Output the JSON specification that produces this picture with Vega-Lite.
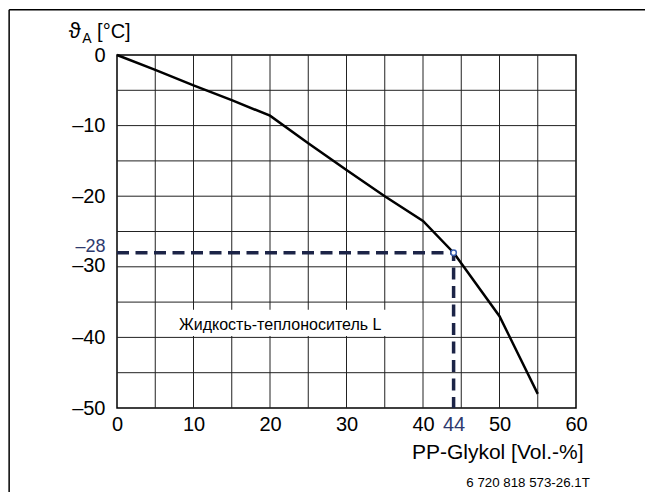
{
  "$schema": "https://vega.github.io/schema/vega-lite/v6.json",
  "width": 459,
  "height": 353,
  "autosize": {"type": "none"},
  "padding": {"left": 117, "top": 55, "right": 69, "bottom": 84},
  "background": "white",
  "config": {
    "view": {"stroke": "#000", "strokeWidth": 1.5},
    "font": "Liberation Sans",
    "text": {"font": "Liberation Sans"},
    "axis": {"labelOverlap": false, "labelBound": false, "labelFlush": false}
  },
  "datasets": {
    "curve": [
      {"pct": 0, "temp": 0},
      {"pct": 5, "temp": -2.1},
      {"pct": 10, "temp": -4.3},
      {"pct": 15, "temp": -6.4},
      {"pct": 20, "temp": -8.6},
      {"pct": 25, "temp": -12.5},
      {"pct": 30, "temp": -16.3},
      {"pct": 35, "temp": -20},
      {"pct": 40, "temp": -23.5},
      {"pct": 44, "temp": -28},
      {"pct": 50, "temp": -37},
      {"pct": 55, "temp": -48}
    ],
    "ref": [
      {"pct": 0, "temp": -28, "step": 1},
      {"pct": 44, "temp": -28, "step": 2},
      {"pct": 44, "temp": -50, "step": 3}
    ],
    "gridx": [{"v": 5}, {"v": 10}, {"v": 15}, {"v": 20}, {"v": 25}, {"v": 30}, {"v": 35}, {"v": 40}, {"v": 45}, {"v": 50}, {"v": 55}],
    "gridy": [{"v": -5}, {"v": -10}, {"v": -15}, {"v": -20}, {"v": -25}, {"v": -30}, {"v": -35}, {"v": -40}, {"v": -45}]
  },
  "layer": [
    {
      "data": {"name": "gridx"},
      "mark": {"type": "rule", "color": "#222", "strokeWidth": 1},
      "encoding": {
        "x": {
          "field": "v", "type": "quantitative",
          "scale": {"domain": [0, 60], "nice": false, "zero": false},
          "axis": {
            "title": "PP-Glykol [Vol.-%]",
            "values": [0, 10, 20, 30, 40, 44, 50, 60],
            "labelOverlap": false,
            "labelBound": false,
            "labelFlush": false,
            "labelFont": "Liberation Sans",
            "labelFontSize": 20,
            "labelColor": {"condition": {"test": "datum.value == 44", "value": "#2e3a6e"}, "value": "#000"},
            "labelPadding": 6,
            "ticks": false,
            "domain": false,
            "grid": false,
            "titleFont": "Liberation Sans",
            "titleFontSize": 21,
            "titleFontWeight": "normal",
            "titleColor": "#000",
            "titleAnchor": "end",
            "titleAlign": "right",
            "titleX": 466,
            "titleY": 50,
            "titleBaseline": "alphabetic"
          }
        }
      }
    },
    {
      "data": {"name": "gridy"},
      "mark": {"type": "rule", "color": "#222", "strokeWidth": 1},
      "encoding": {
        "y": {
          "field": "v", "type": "quantitative",
          "scale": {"domain": [-50, 0], "nice": false, "zero": false},
          "axis": {
            "title": null,
            "values": [0, -10, -20, -28, -30, -40, -50],
            "labelExpr": "datum.value < 0 ? '\u2013' + abs(datum.value) : '0'",
            "labelOverlap": false,
            "labelBound": false,
            "labelFlush": false,
            "labelFont": "Liberation Sans",
            "labelFontSize": {"condition": {"test": "datum.value == -28", "value": 18}, "value": 20},
            "labelColor": {"condition": {"test": "datum.value == -28", "value": "#2e3a6e"}, "value": "#000"},
            "labelOffset": {"condition": [{"test": "datum.value == -30", "value": -1}, {"test": "datum.value == -28", "value": -6}], "value": 0},
            "labelPadding": 12,
            "ticks": false,
            "domain": false,
            "grid": false
          }
        }
      }
    },
    {
      "data": {"name": "curve"},
      "mark": {"type": "line", "color": "#000", "strokeWidth": 2.5, "clip": false},
      "encoding": {
        "x": {"field": "pct", "type": "quantitative"},
        "y": {"field": "temp", "type": "quantitative"}
      }
    },
    {
      "data": {"values": [{"t": "Жидкость-теплоноситель L"}]},
      "mark": {"type": "rect", "fill": "white", "stroke": null, "clip": false},
      "encoding": {
        "x": {"datum": 5.2, "type": "quantitative"},
        "x2": {"datum": 39.9},
        "y": {"datum": -36.1, "type": "quantitative"},
        "y2": {"datum": -39.8}
      }
    },
    {
      "data": {"values": [{"t": "Жидкость-теплоноситель L"}]},
      "mark": {"type": "text", "align": "left", "baseline": "alphabetic", "fontSize": 16, "color": "#000", "clip": false},
      "encoding": {
        "x": {"datum": 8.1, "type": "quantitative"},
        "y": {"datum": -38.95, "type": "quantitative"},
        "text": {"field": "t"}
      }
    },
    {
      "data": {"name": "ref"},
      "mark": {"type": "line", "color": "#1c2447", "strokeWidth": 3.5, "strokeDash": [12, 6.5], "clip": false},
      "encoding": {
        "x": {"field": "pct", "type": "quantitative"},
        "y": {"field": "temp", "type": "quantitative"},
        "order": {"field": "step"}
      }
    },
    {
      "data": {"values": [{"pct": 44, "temp": -28}]},
      "mark": {"type": "point", "shape": "circle", "filled": false, "fill": "white", "fillOpacity": 1, "stroke": "#3a5fb0", "strokeWidth": 1.5, "size": 30, "opacity": 1, "clip": false},
      "encoding": {
        "x": {"field": "pct", "type": "quantitative"},
        "y": {"field": "temp", "type": "quantitative"}
      }
    },
    {
      "data": {"values": [{"t": "ϑ"}]},
      "mark": {"type": "text", "align": "left", "baseline": "alphabetic", "fontSize": 22, "color": "#000", "clip": false},
      "encoding": {
        "x": {"datum": -6.3, "type": "quantitative"},
        "y": {"datum": 2.4, "type": "quantitative"},
        "text": {"field": "t"}
      }
    },
    {
      "data": {"values": [{"t": "A"}]},
      "mark": {"type": "text", "align": "left", "baseline": "alphabetic", "fontSize": 14, "color": "#000", "clip": false},
      "encoding": {
        "x": {"datum": -4.55, "type": "quantitative"},
        "y": {"datum": 1.7, "type": "quantitative"},
        "text": {"field": "t"}
      }
    },
    {
      "data": {"values": [{"t": "[°C]"}]},
      "mark": {"type": "text", "align": "left", "baseline": "alphabetic", "fontSize": 20, "color": "#000", "clip": false},
      "encoding": {
        "x": {"datum": -2.6, "type": "quantitative"},
        "y": {"datum": 2.4, "type": "quantitative"},
        "text": {"field": "t"}
      }
    },
    {
      "data": {"values": [{"t": "6 720 818 573-26.1T"}]},
      "mark": {"type": "text", "align": "right", "baseline": "alphabetic", "fontSize": 13.3, "color": "#000", "clip": false},
      "encoding": {
        "x": {"datum": 61.8, "type": "quantitative"},
        "y": {"datum": -61.2, "type": "quantitative"},
        "text": {"field": "t"}
      }
    },
    {
      "data": {"values": [{"side": "left"}]},
      "mark": {"type": "rule", "color": "#000", "strokeWidth": 1.5, "clip": false},
      "encoding": {
        "x": {"datum": -14.1, "type": "quantitative"},
        "y": {"datum": 6.4, "type": "quantitative"},
        "y2": {"datum": -70}
      }
    },
    {
      "data": {"values": [{"side": "top"}]},
      "mark": {"type": "rule", "color": "#000", "strokeWidth": 1.5, "clip": false},
      "encoding": {
        "x": {"datum": -14.1, "type": "quantitative"},
        "x2": {"datum": 80},
        "y": {"datum": 6.4, "type": "quantitative"}
      }
    }
  ]
}
